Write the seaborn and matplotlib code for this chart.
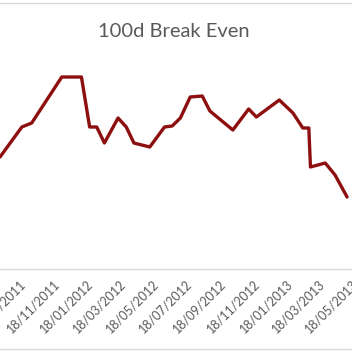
import pandas as pd
import matplotlib.pyplot as plt
from matplotlib.lines import Line2D
import seaborn as sns

# Data points (break-even level, arbitrary units)
dates = ["2011-08-13", "2011-09-22", "2011-10-10", "2011-12-04", "2012-01-09",
         "2012-01-24", "2012-02-06", "2012-02-20", "2012-03-16", "2012-03-31",
         "2012-04-14", "2012-05-13", "2012-06-09", "2012-06-23", "2012-07-08",
         "2012-07-26", "2012-08-17", "2012-08-31", "2012-10-12", "2012-11-10",
         "2012-11-24", "2013-01-05", "2013-01-30", "2013-02-17", "2013-02-28",
         "2013-03-03", "2013-03-30", "2013-04-17", "2013-05-09"]
values = [56, 71, 73, 96, 96,
          71, 71, 63, 75.5, 71,
          63, 61, 71, 71.5, 75.5,
          86, 86.5, 79, 69.5, 80,
          76, 84.5, 78, 70.5, 70.5,
          51, 53, 47, 36]

tick_dates = ["2011-09-18", "2011-11-18", "2012-01-18", "2012-03-18", "2012-05-18",
              "2012-07-18", "2012-09-18", "2012-11-18", "2013-01-18", "2013-03-18",
              "2013-05-18"]
tick_labels = ["18/09/2011", "18/11/2011", "18/01/2012", "18/03/2012", "18/05/2012",
               "18/07/2012", "18/09/2012", "18/11/2012", "18/01/2013", "18/03/2013",
               "18/05/2013"]

df = pd.DataFrame({"date": pd.to_datetime(dates), "value": values})

sns.set_theme(style="white")
plt.rcParams["font.family"] = ["Lato", "DejaVu Sans"]

fig = plt.figure(figsize=(3.52, 3.52), dpi=100)
ax = fig.add_axes([0, 83 / 352, 1, 224 / 352])

sns.lineplot(data=df, x="date", y="value", color="#8e0f0f", linewidth=2.4, ax=ax)

ax.set_xlim(pd.Timestamp("2011-08-13"), pd.Timestamp("2013-05-09"))
ax.set_ylim(0, 112)
ax.set_xticks(pd.to_datetime(tick_dates))
ax.set_xticklabels(tick_labels, rotation=45, ha="right", va="top",
                   rotation_mode="anchor", fontsize=9, color="#595959")
ax.tick_params(axis="x", length=0, pad=6)
ax.set_yticks([])
ax.set_xlabel("")
ax.set_ylabel("")
for s in ["left", "right", "top"]:
    ax.spines[s].set_visible(False)
ax.spines["bottom"].set_color("#d9d9d9")
ax.spines["bottom"].set_linewidth(1)

fig.text(174 / 352, 1 - 37 / 352, "100d Break Even", ha="center", va="baseline",
         fontsize=14.5, color="#595959")

# chart area border (top and bottom visible in the crop)
fig.add_artist(Line2D([0, 1], [1 - 3 / 352, 1 - 3 / 352], color="#d9d9d9", lw=1))
fig.add_artist(Line2D([0, 1], [1 - 349 / 352, 1 - 349 / 352], color="#d9d9d9", lw=1))

fig.savefig("out.png", dpi=100)
